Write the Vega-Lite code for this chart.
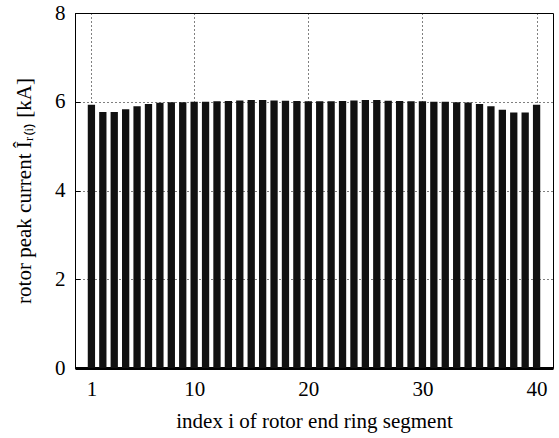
{
  "$schema": "https://vega.github.io/schema/vega-lite/v6.json",
  "autosize": "none",
  "width": 478,
  "height": 355,
  "padding": {"left": 75, "top": 13, "right": 6, "bottom": 70},
  "background": "white",
  "config": {
    "view": {"stroke": "black", "strokeWidth": 1},
    "font": "Liberation Serif",
    "axis": {
      "labelFont": "Liberation Serif",
      "titleFont": "Liberation Serif",
      "labelFontSize": 21,
      "titleFontSize": 21,
      "titleFontWeight": "normal",
      "labelColor": "black",
      "titleColor": "black",
      "domainColor": "black",
      "tickColor": "black",
      "gridColor": "black",
      "gridDash": [1, 3],
      "gridOpacity": 1,
      "gridWidth": 1
    }
  },
  "data": {
    "values": [
      {"i": 1, "v": 5.93}, {"i": 2, "v": 5.77}, {"i": 3, "v": 5.77}, {"i": 4, "v": 5.83},
      {"i": 5, "v": 5.90}, {"i": 6, "v": 5.95}, {"i": 7, "v": 5.98}, {"i": 8, "v": 5.99},
      {"i": 9, "v": 5.99}, {"i": 10, "v": 6.0}, {"i": 11, "v": 6.0}, {"i": 12, "v": 6.01},
      {"i": 13, "v": 6.015}, {"i": 14, "v": 6.03}, {"i": 15, "v": 6.04}, {"i": 16, "v": 6.04},
      {"i": 17, "v": 6.03}, {"i": 18, "v": 6.02}, {"i": 19, "v": 6.015}, {"i": 20, "v": 6.01},
      {"i": 21, "v": 6.01}, {"i": 22, "v": 6.01}, {"i": 23, "v": 6.015}, {"i": 24, "v": 6.03},
      {"i": 25, "v": 6.04}, {"i": 26, "v": 6.04}, {"i": 27, "v": 6.02}, {"i": 28, "v": 6.015},
      {"i": 29, "v": 6.01}, {"i": 30, "v": 6.01}, {"i": 31, "v": 6.0}, {"i": 32, "v": 6.0},
      {"i": 33, "v": 5.99}, {"i": 34, "v": 5.985}, {"i": 35, "v": 5.95}, {"i": 36, "v": 5.90},
      {"i": 37, "v": 5.82}, {"i": 38, "v": 5.76}, {"i": 39, "v": 5.76}, {"i": 40, "v": 5.93}
    ]
  },
  "mark": {"type": "bar", "color": "#111111", "size": 7.3, "clip": true},
  "encoding": {
    "x": {
      "field": "i",
      "type": "quantitative",
      "scale": {"domain": [0, 41], "nice": false, "zero": false},
      "axis": {
        "values": [1, 10, 20, 30, 40],
        "title": "index i of rotor end ring segment",
        "tickSize": -5,
        "labelPadding": 15,
        "titlePadding": 11,
        "grid": true,
        "domainWidth": 3
      }
    },
    "y": {
      "field": "v",
      "type": "quantitative",
      "scale": {"domain": [0, 8], "nice": false},
      "axis": {
        "values": [0, 2, 4, 6, 8],
        "title": "rotor peak current Îᵣ₍ᵢ₎ [kA]",
        "tickSize": -5,
        "labelPadding": 15,
        "titlePadding": 20,
        "grid": true
      }
    }
  }
}
